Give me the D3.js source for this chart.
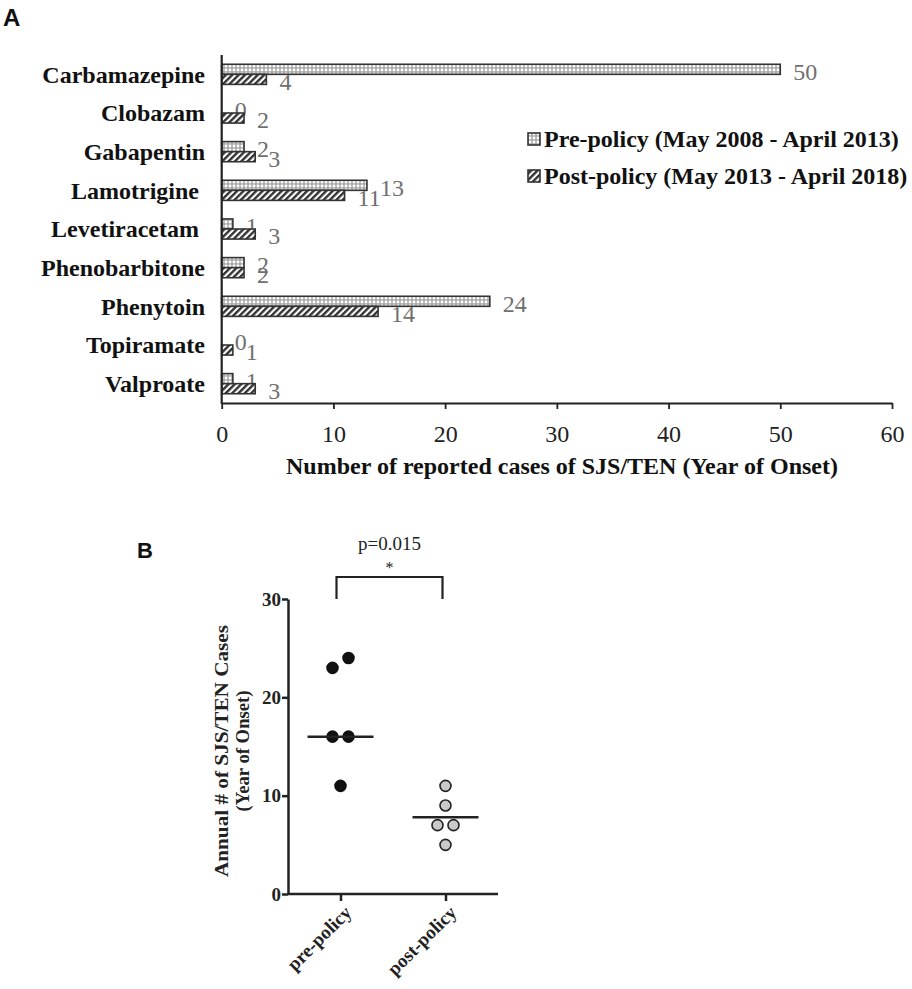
<!DOCTYPE html>
<html><head><meta charset="utf-8">
<script src="https://cdn.jsdelivr.net/npm/d3@7"></script>
<style>
html,body{margin:0;padding:0;background:#fff;}
svg{display:block;}
text{white-space:pre;}
</style></head>
<body>
<svg id="chart" width="912" height="989"></svg>
<script>
// ---------- Panel A data ----------
const drugs = ["Carbamazepine","Clobazam","Gabapentin","Lamotrigine ","Levetiracetam ","Phenobarbitone","Phenytoin","Topiramate","Valproate"];
const preValues  = [50, 0, 2, 13, 1, 2, 24, 0, 1];
const postValues = [4, 2, 3, 11, 3, 2, 14, 1, 3];
const seriesNames = ["Pre-policy (May 2008 - April 2013)", "Post-policy (May 2013 - April 2018)"];
const xTicksA = [0, 10, 20, 30, 40, 50, 60];
const xTitleA = "Number of reported cases of SJS/TEN (Year of Onset)";

// ---------- Panel B data ----------
const groups = ["pre-policy", "post-policy"];
const preAnnual  = [23, 24, 16, 16, 11];
const postAnnual = [11, 9, 7, 7, 5];
const groupLines = [16, 7.8];
const yTicksB = [0, 10, 20, 30];
const pText = "p=0.015";
const yTitleB = ["Annual # of SJS/TEN Cases", "(Year of Onset)"];

const svg = d3.select("#chart");
const serif = "'Liberation Serif','Times New Roman',serif";
const sans = "'Liberation Sans',Arial,sans-serif";
const dark = "#222";

// patterns
const defs = svg.append("defs");
const pd = defs.append("pattern").attr("id","dots").attr("patternUnits","userSpaceOnUse")
  .attr("width",4).attr("height",4);
pd.append("rect").attr("width",4).attr("height",4).attr("fill","#a8a8a8");
pd.append("circle").attr("cx",2).attr("cy",2).attr("r",1.45).attr("fill","#fff");
const ph = defs.append("pattern").attr("id","hatch").attr("patternUnits","userSpaceOnUse")
  .attr("width",4.5).attr("height",4.5).attr("patternTransform","rotate(45)");
ph.append("rect").attr("width",4.5).attr("height",4.5).attr("fill","#fff");
ph.append("rect").attr("x",0).attr("y",0).attr("width",2.4).attr("height",4.5).attr("fill","#333");

// ---------- Panel A ----------
svg.append("text").attr("x",3).attr("y",26).text("A")
  .attr("font-family",sans).attr("font-weight","bold").attr("font-size",24).attr("fill","#111");

const xA = d3.scaleLinear().domain([0,60]).range([221.7, 892]);
const yA = d3.scaleBand().domain(drugs).range([55, 403]).paddingInner(0.48).paddingOuter(0.24);
const sub = d3.scaleBand().domain(["pre","post"]).range([0, yA.bandwidth()]);

const rows = drugs.map((d,i)=>({drug:d, pre:preValues[i], post:postValues[i]}));
const gA = svg.append("g");

rows.forEach(r=>{
  [["pre","url(#dots)"],["post","url(#hatch)"]].forEach(([k,fill])=>{
    const y0 = yA(r.drug) + sub(k);
    if (r[k] > 0) {
      gA.append("rect").attr("x", xA(0)).attr("y", y0)
        .attr("width", xA(r[k]) - xA(0)).attr("height", sub.bandwidth())
        .attr("fill", fill).attr("stroke", "#333").attr("stroke-width", 1.6);
    }
    gA.append("text").attr("x", xA(r[k]) + 13).attr("y", y0 + sub.bandwidth()/2 + 2)
      .attr("dy","0.35em").text(r[k])
      .attr("font-family",serif).attr("font-size",24).attr("fill","#707070");
  });
});

// category labels
gA.selectAll("text.cat").data(drugs).enter().append("text").attr("class","cat")
  .attr("x", 205).attr("y", d=>yA(d)+yA.bandwidth()/2).attr("dy","0.35em")
  .attr("text-anchor","end").text(d=>d)
  .attr("font-family",serif).attr("font-weight","bold").attr("font-size",24).attr("fill","#111");

// axes
const axA = gA.append("g").attr("transform","translate(0,403)")
  .call(d3.axisBottom(xA).tickValues(xTicksA).tickSize(6).tickPadding(16).tickSizeOuter(0));
axA.select(".domain").attr("stroke",dark).attr("stroke-width",2.2);
axA.selectAll(".tick line").attr("stroke",dark).attr("stroke-width",1.8);
axA.selectAll(".tick text").attr("font-family",serif).attr("font-size",24).attr("fill","#222");
gA.append("line").attr("x1",xA(0)).attr("x2",xA(0)).attr("y1",55).attr("y2",404)
  .attr("stroke",dark).attr("stroke-width",2.2);

gA.append("text").attr("x",562).attr("y",466).attr("dy","0.35em").attr("text-anchor","middle")
  .text(xTitleA).attr("font-family",serif).attr("font-weight","bold").attr("font-size",24).attr("fill","#111");

// legend
const leg = gA.append("g");
seriesNames.forEach((s,i)=>{
  const cy = 139 + i*37;
  leg.append("rect").attr("x",528).attr("y",cy-6).attr("width",12).attr("height",12)
    .attr("fill", i===0 ? "url(#dots)" : "url(#hatch)").attr("stroke","#333").attr("stroke-width",1.6);
  leg.append("text").attr("x",544).attr("y",cy).attr("dy","0.35em").text(s)
    .attr("font-family",serif).attr("font-weight","bold").attr("font-size",24).attr("fill","#111");
});

// ---------- Panel B ----------
svg.append("text").attr("x",137).attr("y",558).text("B")
  .attr("font-family",sans).attr("font-weight","bold").attr("font-size",22).attr("fill","#111");

const xB = d3.scalePoint().domain(groups).range([288, 498]).padding(0.5);
const yB = d3.scaleLinear().domain([0,30]).range([894, 599]);
const gB = svg.append("g");

const axYB = gB.append("g").attr("transform","translate(288,0)")
  .call(d3.axisLeft(yB).tickValues(yTicksB).tickSize(6).tickPadding(1).tickSizeOuter(0));
axYB.select(".domain").attr("stroke",dark).attr("stroke-width",2.5);
axYB.selectAll(".tick line").attr("stroke",dark).attr("stroke-width",2.5);
axYB.selectAll(".tick text").attr("font-family",serif).attr("font-weight","bold").attr("font-size",19).attr("fill","#222");

const axXB = gB.append("g").attr("transform","translate(0,894)")
  .call(d3.axisBottom(xB).tickSize(7).tickSizeOuter(0));
axXB.select(".domain").attr("stroke",dark).attr("stroke-width",2.5).attr("d","M288,0H498");
axXB.selectAll(".tick line").attr("stroke",dark).attr("stroke-width",2.5);
axXB.selectAll(".tick text").attr("font-family",serif).attr("font-weight","bold").attr("font-size",19).attr("fill","#222")
  .attr("text-anchor","end").attr("transform","translate(7,15) rotate(-45)").attr("dy","0.35em").attr("y",0).attr("x",0);

// y title
const yTitleLen = [252, 121];
yTitleB.forEach((t,i)=>{
  gB.append("text").attr("transform",`translate(${228+i*21},751) rotate(-90)`)
    .attr("text-anchor","middle").text(t)
    .attr("textLength", yTitleLen[i]).attr("lengthAdjust","spacingAndGlyphs")
    .attr("font-family",serif).attr("font-weight","bold").attr("font-size",18).attr("fill","#222");
});

// beeswarm layout
function swarm(vals){
  const sorted = vals.map(v=>({v})).sort((a,b)=>a.v-b.v);
  const bins = [];
  sorted.forEach(p=>{
    const last = bins[bins.length-1];
    if (last && Math.abs(yB(last[0].v) - yB(p.v)) < 11) last.push(p); else bins.push([p]);
  });
  bins.forEach(b=>b.forEach((p,i)=>{ p.off = (i - (b.length-1)/2) * 16; }));
  return sorted;
}
const rB = 5.5;
[[preAnnual,"#111","#111"],[postAnnual,"#c9c9c9","#222"]].forEach(([vals,fill,stroke],gi)=>{
  const cx = xB(groups[gi]);
  gB.selectAll(null).data(swarm(vals)).enter().append("circle")
    .attr("cx", d=>cx + d.off).attr("cy", d=>yB(d.v)).attr("r", rB)
    .attr("fill", fill).attr("stroke", stroke).attr("stroke-width", 1.6);
  gB.append("line").attr("x1",cx-33).attr("x2",cx+33)
    .attr("y1",yB(groupLines[gi])).attr("y2",yB(groupLines[gi]))
    .attr("stroke",dark).attr("stroke-width",2.5);
});

// significance bracket
const bx1 = xB(groups[0]) - 4, bx2 = xB(groups[1]) - 3;
gB.append("path").attr("d",`M${bx1},${yB(30)}V577H${bx2}V${yB(30)}`)
  .attr("fill","none").attr("stroke",dark).attr("stroke-width",2.2);
gB.append("text").attr("x",(bx1+bx2)/2).attr("y",543).attr("dy","0.35em").attr("text-anchor","middle")
  .text(pText).attr("font-family",serif).attr("font-size",19).attr("fill","#222");
gB.append("text").attr("x",(bx1+bx2)/2).attr("y",567).attr("dy","0.35em").attr("text-anchor","middle")
  .text("*").attr("font-family",serif).attr("font-size",16).attr("fill","#222");
</script>
</body></html>
